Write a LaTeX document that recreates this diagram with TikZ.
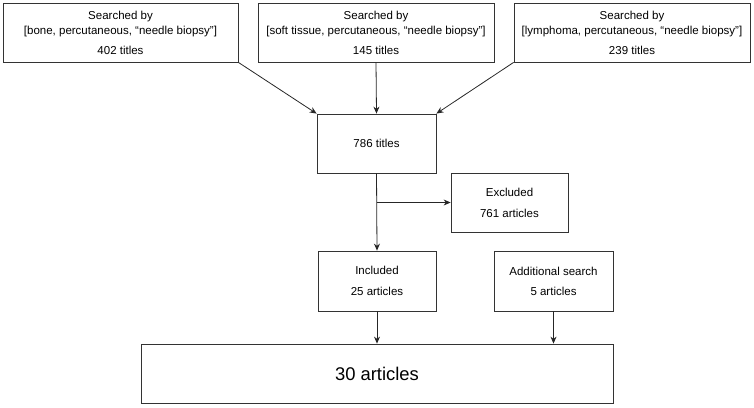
\documentclass[tikz,border=0pt]{standalone}
\usepackage{fontspec}
\setmainfont{Liberation Sans}
\usepackage{tikz}
\usetikzlibrary{shapes.misc, positioning, shapes.geometric, arrows, arrows.meta}
\tikzstyle{search} = [rectangle, minimum width=236pt, minimum height=59pt, text centered, align=center, draw=black!80, line width=0.8pt, font=\fontsize{11.5}{15}\selectfont]
\tikzstyle{count} = [rectangle, minimum width=118pt, minimum height=60pt, text centered, align=center, draw=black!80, line width=0.8pt, font=\fontsize{11.5}{14}\selectfont]
\tikzstyle{final} = [rectangle, minimum width=472pt, minimum height=59pt, text centered, draw=black!80, line width=0.8pt, font=\fontsize{18.4}{22}\selectfont]
\tikzstyle{arrow} = [line width=0.8pt, draw=black!85, -{Stealth[length=7pt, width=6pt]}]

\begin{document}
\begin{tikzpicture}[x=1pt, y=-1pt]
\useasboundingbox (0,0) rectangle (754,407);

\node (bone) [search, minimum width=235pt] at (120.5,32.5) {Searched by\\{[}bone, percutaneous, “needle biopsy”{]}\\[5pt]402 titles};
\node (soft) [search] at (376,32.5) {Searched by\\{[}soft tissue, percutaneous, “needle biopsy”{]}\\[5pt]145 titles};
\node (lymph) [search] at (632,32.5) {Searched by\\{[}lymphoma, percutaneous, “needle biopsy”{]}\\[5pt]239 titles};

\node (titles) [count, minimum width=119pt, minimum height=59pt] at (376.5,143.5) {786 titles};
\draw [arrow] (bone.south east) -- (titles.north west);
\draw [arrow] (soft.south) -- (titles.north);
\draw [arrow] (lymph.south west) -- (titles.north east);

\node (excl) [count, minimum width=117pt, minimum height=59pt] at (509.5,202.5) {Excluded\\[7pt]761 articles};
\node (incl) [count] at (377,281) {Included\\[7pt]25 articles};
\node (addl) [count, minimum width=119pt] at (553.5,281) {Additional search\\[6pt]5 articles};
\draw [arrow] (titles.south) -- (incl.north);
\draw [arrow] (titles.south |- excl.west) -- (excl.west);

\node (total) [final] at (377,373.5) {30 articles};
\draw [arrow] (incl.south) -- (total.north);
\draw [arrow] (addl.south) -- (addl.south |- total.north);

\end{tikzpicture}
\end{document}
